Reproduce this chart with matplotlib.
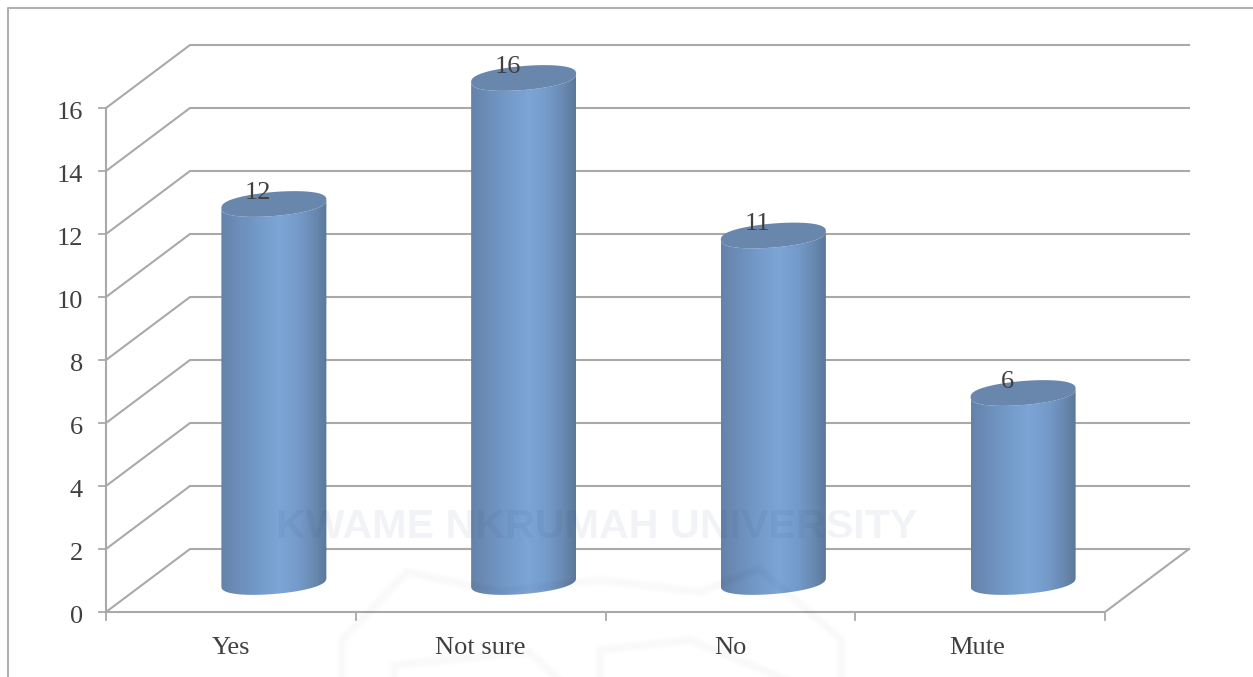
import numpy as np
import matplotlib
matplotlib.use('Agg')
import matplotlib.pyplot as plt
from matplotlib.colors import LinearSegmentedColormap
from matplotlib.patches import Polygon

categories = ['Yes', 'Not sure', 'No', 'Mute']
values = [12, 16, 11, 6]
y_ticks = [0, 2, 4, 6, 8, 10, 12, 14, 16]

W, H = 1253, 677
GRID = '#a9a9a9'
TEXT = '#404040'

# 3d box: one category is 249.75 px wide, one y unit is 31.5 px
PX_X = 249.75
PX_Y = 31.5
DEPTH_X = 84 / PX_X
DEPTH_Y = 2.0
RADIUS = 52.5 / PX_X
TILT = 4.2 / PX_Y
MINOR = 12 / PX_Y

plt.rcParams['font.family'] = ['Liberation Serif', 'DejaVu Serif']

fig = plt.figure(figsize=(W / 100, H / 100), dpi=100, facecolor='white')
ax = fig.add_axes([0, 0, 1, 1])
ax.axis('off')

cyl_cmap = LinearSegmentedColormap.from_list('cyl', [
    (0.0, '#6383aa'), (0.12, '#6b8bb6'), (0.3, '#7197c5'), (0.55, '#7ca6d6'),
    (0.75, '#7399c8'), (0.9, '#6787ae'), (1.0, '#5a7899')])


def ellipse(cx, cy, t):
    # cylinder cap, skewed to follow the floor, slightly blunt at the ends
    s = np.sin(t)
    blunt = np.sign(s) * np.abs(s) ** 0.8
    return cx + RADIUS * np.cos(t), cy + TILT * np.cos(t) + MINOR * blunt


def draw_cylinder(cx, value):
    base = DEPTH_Y / 2 - 1.5 / PX_Y
    top = value + DEPTH_Y / 2 - 1.5 / PX_Y
    t_low = np.linspace(np.pi, 2 * np.pi, 80)
    bx, by = ellipse(cx, base, t_low)
    tx, ty = ellipse(cx, top, t_low[::-1])
    body = Polygon(np.column_stack([np.r_[bx, tx], np.r_[by, ty]]), closed=True,
                   facecolor='none', edgecolor='none', transform=ax.transData)
    ax.add_patch(body)
    grad = np.linspace(0, 1, 256).reshape(1, -1)
    im = ax.imshow(grad, cmap=cyl_cmap, aspect='auto', zorder=3,
                   extent=[cx - RADIUS, cx + RADIUS, base - 2, top + 2])
    im.set_clip_path(body)
    t = np.linspace(0, 2 * np.pi, 160)
    cx_pts, cy_pts = ellipse(cx, top, t)
    ax.fill(cx_pts, cy_pts, color='#6986ad', zorder=4, lw=0)


# walls and floor
for v in y_ticks:
    ax.plot([0, DEPTH_X, 4 + DEPTH_X], [v, v + DEPTH_Y, v + DEPTH_Y],
            color=GRID, lw=1.5, zorder=1, solid_joinstyle='miter')
    ax.plot([-7 / PX_X, 0], [v, v], color=GRID, lw=1.3, zorder=1)
    ax.text(-23 / PX_X, v - 5 / PX_Y, str(v), ha='right', va='center', fontsize=19, color=TEXT)
ax.plot([0, 0], [0, y_ticks[-1]], color=GRID, lw=1.5, zorder=1)
ax.plot([0, 4, 4 + DEPTH_X], [0, 0, DEPTH_Y], color=GRID, lw=1.5, zorder=1)
for i in range(len(categories) + 1):
    ax.plot([i, i], [0, -8 / PX_Y], color=GRID, lw=1.3, zorder=1)

# cylinders, labels
for i, (name, val) in enumerate(zip(categories, values)):
    draw_cylinder(i + 0.5 + DEPTH_X / 2 + 1 / PX_X, val)
    ax.text(i + 0.5 + 27 / PX_X, val + 1.4 - 3 / PX_Y, str(val), ha='center', va='center',
            fontsize=19, color=TEXT, zorder=6)
    # the last label sits a little left of its slot
    nudge = -3 / PX_X if name == 'Mute' else 0
    ax.text(i + 0.5 + nudge, -36 / PX_Y, name, ha='center', va='center', fontsize=19, color=TEXT)

ax.set_xlim(-106 / PX_X, (W - 106) / PX_X)
ax.set_ylim((612 - H) / PX_Y, 612 / PX_Y)

# outer chart border, open on the right and bottom
fig.add_artist(plt.Line2D([8 / W, 8 / W, 1], [0, 1 - 8 / H, 1 - 8 / H], color='#b0b0b0', lw=1.5))

# faint crest and stamp over everything, in figure pixels
to_fig = lambda pts: [(x / W, 1 - y / H) for x, y in pts]
crest = [
    [(342, 690), (342, 640), (407, 572), (500, 592), (600, 580), (700, 592), (759, 569), (841, 639), (841, 690)],
    [(394, 690), (394, 665), (529, 652), (565, 685)],
    [(600, 685), (600, 650), (690, 640), (800, 685)],
]
for pts in crest:
    xy = to_fig(pts)
    for lw in (8, 5.5, 3):
        fig.add_artist(plt.Line2D([p[0] for p in xy], [p[1] for p in xy], color='black',
                                  alpha=0.008, lw=lw, solid_joinstyle='round'))
fig.text(597 / W, 1 - 527 / H, 'KWAME NKRUMAH UNIVERSITY', ha='center', va='center',
         fontsize=29.7, fontweight='bold', family='Liberation Sans', color='#1f3b66',
         alpha=0.06, zorder=10)

fig.savefig('out.png', dpi=100)
